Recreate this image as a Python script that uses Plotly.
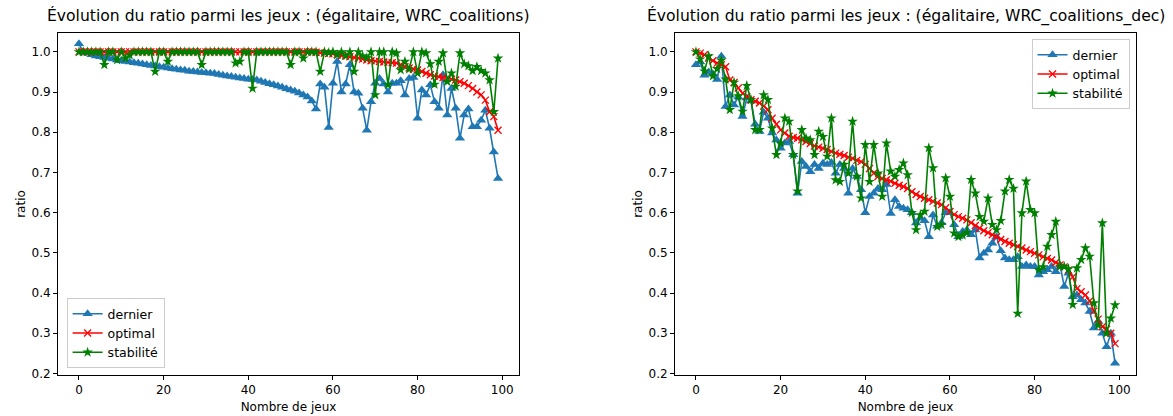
import plotly.graph_objects as go

games = list(range(100))

titles = ["Évolution du ratio parmi les jeux : (égalitaire, WRC_coalitions)",
          "Évolution du ratio parmi les jeux : (égalitaire, WRC_coalitions_dec)"]
series_names = ["dernier", "optimal", "stabilité"]
x_label = "Nombre de jeux"
y_label = "ratio"
x_ticks = [0, 20, 40, 60, 80, 100]
y_ticks = [0.2, 0.3, 0.4, 0.5, 0.6, 0.7, 0.8, 0.9, 1.0]

# Left chart: (égalitaire, WRC_coalitions)
dernier_g = [1.02, 1.0, 0.997, 0.993, 0.99, 0.988, 0.986, 0.984, 0.982, 0.98,
             0.978, 0.976, 0.975, 0.973, 0.972, 0.97, 0.968, 0.966, 0.965, 0.963,
             0.962, 0.96, 0.958, 0.957, 0.955, 0.954, 0.952, 0.951, 0.95, 0.949,
             0.948, 0.947, 0.946, 0.944, 0.942, 0.94, 0.939, 0.937, 0.935, 0.934,
             0.932, 0.931, 0.93, 0.927, 0.924, 0.921, 0.918, 0.915, 0.912, 0.908,
             0.905, 0.902, 0.898, 0.893, 0.888, 0.878, 0.858, 0.92, 0.912, 0.812,
             0.922, 0.976, 0.9, 0.92, 0.968, 0.9, 0.897, 0.86, 0.805, 0.876,
             0.922, 0.934, 0.92, 0.9, 0.922, 0.922, 0.928, 0.893, 0.934, 0.936,
             0.835, 0.905, 0.893, 0.918, 0.876, 0.86, 0.943, 0.843, 0.909, 0.86,
             0.785, 0.843, 0.858, 0.814, 0.814, 0.83, 0.855, 0.81, 0.751, 0.685]
optimal_g = [1.0, 1.0, 1.0, 1.0, 1.0, 1.0, 1.0, 1.0, 1.0, 1.0,
             1.0, 1.0, 1.0, 1.0, 1.0, 1.0, 1.0, 1.0, 1.0, 1.0,
             1.0, 1.0, 1.0, 1.0, 1.0, 1.0, 1.0, 1.0, 1.0, 1.0,
             1.0, 1.0, 1.0, 1.0, 1.0, 1.0, 1.0, 1.0, 1.0, 1.0,
             1.0, 1.0, 1.0, 1.0, 1.0, 1.0, 1.0, 1.0, 1.0, 1.0,
             1.0, 1.0, 1.0, 1.0, 1.0, 1.0, 0.999, 0.998, 0.997, 0.996,
             0.995, 0.993, 0.991, 0.99, 0.988, 0.986, 0.984, 0.982, 0.98, 0.978,
             0.977, 0.976, 0.975, 0.974, 0.973, 0.972, 0.968, 0.963, 0.96, 0.957,
             0.955, 0.951, 0.947, 0.943, 0.94, 0.938, 0.936, 0.934, 0.932, 0.93,
             0.926, 0.922, 0.916, 0.909, 0.9, 0.893, 0.88, 0.851, 0.839, 0.805]
stabilite_g = [1.0, 1.0, 1.0, 1.0, 1.0, 1.0, 0.968, 1.0, 1.0, 0.98,
               1.0, 0.984, 0.992, 1.0, 1.0, 1.0, 1.0, 1.0, 0.951, 1.0,
               1.0, 0.976, 1.0, 1.0, 1.0, 1.0, 1.0, 1.0, 1.0, 0.968,
               1.0, 1.0, 1.0, 1.0, 1.0, 1.0, 1.0, 0.972, 0.976, 1.0,
               1.0, 0.909, 1.0, 1.0, 1.0, 1.0, 1.0, 1.0, 1.0, 1.0,
               0.968, 1.0, 1.0, 0.984, 1.0, 1.0, 1.0, 0.951, 1.0, 0.998,
               1.0, 0.993, 1.0, 0.99, 1.0, 0.951, 1.0, 0.99, 0.985, 1.0,
               0.893, 1.0, 1.0, 0.918, 1.0, 0.997, 0.955, 0.976, 0.957, 1.0,
               0.947, 1.0, 0.997, 0.97, 0.919, 0.976, 0.997, 0.926, 0.947, 0.914,
               0.997, 0.97, 0.965, 0.953, 0.963, 0.953, 0.947, 0.93, 0.851, 0.984]

# Right chart: (égalitaire, WRC_coalitions_dec)
dernier_d = [0.968, 0.975, 0.942, 0.95, 0.945, 0.931, 0.989, 0.864, 0.893, 0.868,
             0.888, 0.839, 0.885, 0.878, 0.82, 0.802, 0.85, 0.835, 0.798, 0.781,
             0.76, 0.773, 0.777, 0.744, 0.648, 0.727, 0.715, 0.702, 0.72, 0.71,
             0.723, 0.72, 0.725, 0.698, 0.72, 0.71, 0.648, 0.71, 0.69, 0.657,
             0.6, 0.64, 0.648, 0.66, 0.657, 0.67, 0.598, 0.632, 0.615, 0.611,
             0.607, 0.6, 0.574, 0.586, 0.58, 0.54, 0.594, 0.566, 0.575, 0.6,
             0.6, 0.57, 0.54, 0.553, 0.557, 0.545, 0.557, 0.487, 0.499, 0.507,
             0.524, 0.54, 0.505, 0.487, 0.483, 0.483, 0.49, 0.466, 0.47, 0.466,
             0.466, 0.445, 0.453, 0.458, 0.466, 0.453, 0.47, 0.416, 0.449, 0.391,
             0.395, 0.383, 0.375, 0.354, 0.313, 0.33, 0.3, 0.266, 0.3, 0.225]
optimal_d = [1.0, 0.997, 0.993, 0.985, 0.978, 0.972, 0.968, 0.963, 0.93, 0.924,
             0.91, 0.897, 0.889, 0.881, 0.877, 0.873, 0.865, 0.856, 0.835, 0.82,
             0.806, 0.798, 0.79, 0.787, 0.785, 0.781, 0.777, 0.772, 0.766, 0.763,
             0.76, 0.757, 0.752, 0.748, 0.745, 0.742, 0.738, 0.735, 0.73, 0.727,
             0.72, 0.71, 0.698, 0.69, 0.685, 0.682, 0.678, 0.673, 0.668, 0.665,
             0.66, 0.652, 0.645, 0.64, 0.636, 0.632, 0.628, 0.624, 0.62, 0.612,
             0.603, 0.595, 0.59, 0.586, 0.582, 0.575, 0.568, 0.561, 0.555, 0.55,
             0.545, 0.54, 0.533, 0.528, 0.524, 0.52, 0.516, 0.512, 0.507, 0.503,
             0.499, 0.495, 0.49, 0.486, 0.482, 0.476, 0.47, 0.465, 0.457, 0.44,
             0.411, 0.403, 0.395, 0.38, 0.355, 0.335, 0.316, 0.31, 0.3, 0.274]
stabilite_d = [1.0, 0.982, 0.952, 0.99, 0.94, 0.958, 0.979, 0.932, 0.856, 0.924,
               0.89, 0.852, 0.916, 0.881, 0.806, 0.806, 0.893, 0.881, 0.81, 0.744,
               0.773, 0.835, 0.827, 0.744, 0.653, 0.806, 0.785, 0.781, 0.744, 0.802,
               0.789, 0.74, 0.835, 0.681, 0.677, 0.72, 0.698, 0.827, 0.69, 0.636,
               0.769, 0.677, 0.769, 0.698, 0.64, 0.773, 0.703, 0.69, 0.707, 0.723,
               0.694, 0.6, 0.557, 0.594, 0.603, 0.761, 0.711, 0.565, 0.57, 0.686,
               0.64, 0.549, 0.54, 0.544, 0.55, 0.682, 0.648, 0.59, 0.578, 0.636,
               0.57, 0.557, 0.58, 0.653, 0.682, 0.66, 0.349, 0.599, 0.678, 0.607,
               0.599, 0.458, 0.465, 0.516, 0.545, 0.578, 0.466, 0.466, 0.46, 0.371,
               0.462, 0.483, 0.512, 0.491, 0.375, 0.32, 0.574, 0.3, 0.337, 0.37]

FONT = "DejaVu Sans"
colors = ["#1f77b4", "#ff0000", "#008000"]
markers = [dict(symbol="triangle-up", size=9),
           dict(symbol="x-thin", size=7, line=dict(width=1.3, color="#ff0000")),
           dict(symbol="star", size=8)]

fig = go.Figure()
panels = [
    ([dernier_g, optimal_g, stabilite_g], "x", "y", "legend"),
    ([dernier_d, optimal_d, stabilite_d], "x2", "y2", "legend2"),
]
for data, xa, ya, lg in panels:
    for name, vals, col, mk in zip(series_names, data, colors, markers):
        m = dict(mk)
        m["color"] = col
        fig.add_trace(go.Scatter(
            x=games, y=vals, name=name, mode="lines+markers",
            line=dict(color=col, width=1.6), marker=m,
            xaxis=xa, yaxis=ya, legend=lg))

W, H = 1173, 416
ml, mr, mt, mb = 58, 37, 33, 41
pw = W - ml - mr
d1 = [0, (519 - ml) / pw]
d2 = [(675 - ml) / pw, 1]

axis_common = dict(showline=True, mirror=True, linecolor="black", linewidth=1,
                   ticks="outside", ticklen=4, tickcolor="black", showgrid=False,
                   zeroline=False, automargin=False,
                   tickfont=dict(family=FONT, size=12, color="black"))
xcommon = dict(axis_common, range=[-4.95, 103.95], tickvals=x_ticks,
               title=dict(text=x_label, font=dict(family=FONT, size=12, color="black"), standoff=6))
ycommon = dict(axis_common, range=[0.196, 1.047], tickvals=y_ticks, tickformat=".1f",
               title=dict(text=y_label, font=dict(family=FONT, size=12, color="black"), standoff=3))

fig.update_layout(
    width=W, height=H, margin=dict(l=ml, r=mr, t=mt, b=mb, autoexpand=False),
    paper_bgcolor="white", plot_bgcolor="white",
    font=dict(family=FONT, size=12, color="black"),
    xaxis=dict(xcommon, domain=d1, anchor="y"),
    yaxis=dict(ycommon, domain=[0, 1], anchor="x"),
    xaxis2=dict(xcommon, domain=d2, anchor="y2"),
    yaxis2=dict(ycommon, domain=[0, 1], anchor="x2"),
    legend=dict(x=0.008, y=0.02, xanchor="left", yanchor="bottom",
                bgcolor="rgba(255,255,255,0.8)", bordercolor="#cccccc", borderwidth=1,
                font=dict(family=FONT, size=12.5, color="black"), tracegroupgap=0),
    legend2=dict(x=0.994, y=0.982, xanchor="right", yanchor="top",
                 bgcolor="rgba(255,255,255,0.8)", bordercolor="#cccccc", borderwidth=1,
                 font=dict(family=FONT, size=12.5, color="black"), tracegroupgap=0),
    showlegend=True,
)
for t, d in zip(titles, [d1, d2]):
    fig.add_annotation(text=t, x=(d[0] + d[1]) / 2, y=1, xref="paper", yref="paper",
                       xanchor="center", yanchor="bottom", yshift=5, showarrow=False,
                       font=dict(family=FONT, size=15.6, color="black"))

fig.write_html("out.html", config={"displayModeBar": False},
               post_script="document.body.style.margin='0';document.body.style.overflow='hidden';")
